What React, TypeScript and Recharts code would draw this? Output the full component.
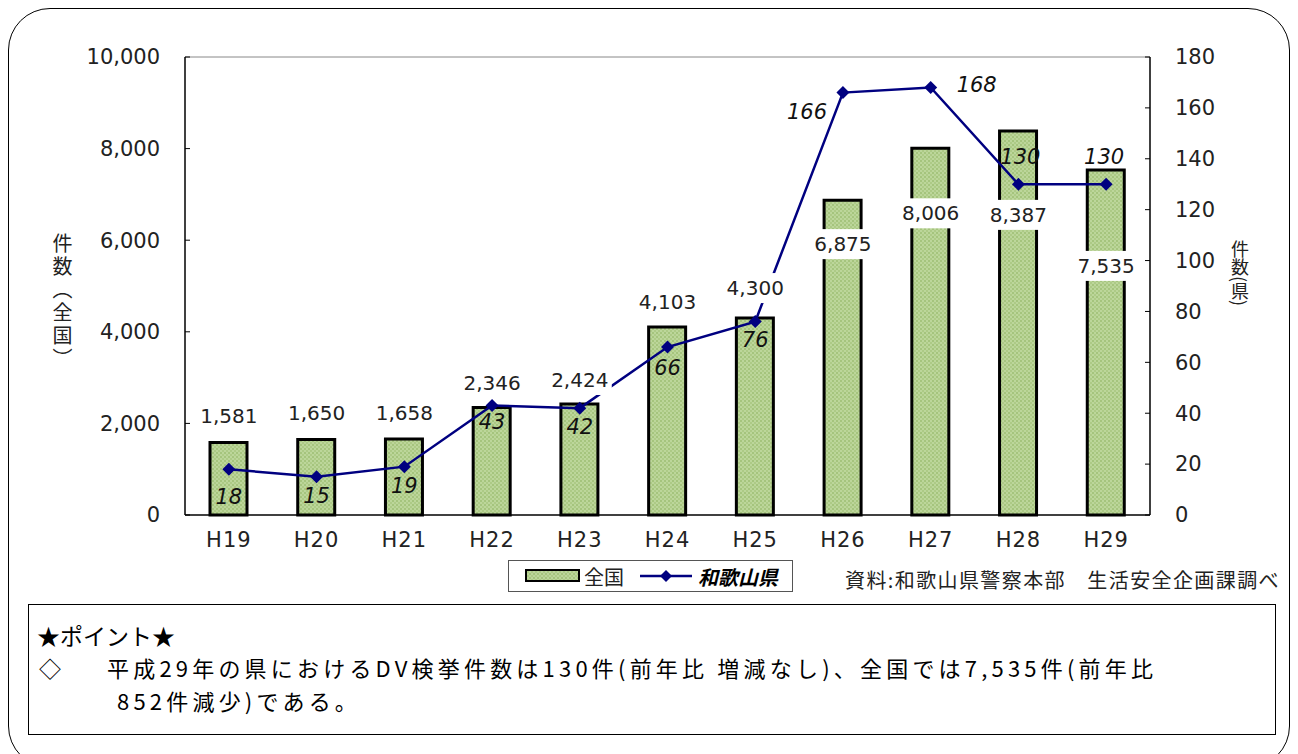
import { ComposedChart, Bar, Line, XAxis, YAxis, LabelList, ReferenceLine } from "recharts";

const YEARS = ["H19", "H20", "H21", "H22", "H23", "H24", "H25", "H26", "H27", "H28", "H29"];
const NATIONAL = [1581, 1650, 1658, 2346, 2424, 4103, 4300, 6875, 8006, 8387, 7535];
const WAKAYAMA = [18, 15, 19, 43, 42, 66, 76, 166, 168, 130, 130];
const LEFT_TICKS = [0, 2000, 4000, 6000, 8000, 10000];
const RIGHT_TICKS = [0, 20, 40, 60, 80, 100, 120, 140, 160, 180];

// label placement (layout only)
const BAR_LABEL_DY = [-27, -26, -26, -25, -24, -25, -30, 44, 65, 84, 96];
const LINE_LABEL_OFFSET = [
  [0, 27], [0, 19], [0, 19], [0, 16], [0, 19], [0, 21], [0, 18],
  [-36, 19], [46, -3], [2, -28], [-2, -28],
];

const FONT = '"Noto Sans CJK JP", "Noto Sans", sans-serif';
const NUM_FONT = '"DejaVu Sans", sans-serif';
const NAVY = "#000080";

const data = YEARS.map((year, i) => ({
  year,
  national: NATIONAL[i],
  wakayama: WAKAYAMA[i],
}));

const LeftTick = (props: any) => {
  const { x, y, payload } = props;
  const ax = x + 25;
  return (
    <g>
      <line x1={ax} x2={ax + 5} y1={y} y2={y} stroke="#000" />
      <text x={x} y={y} dy="0.35em" textAnchor="end" fontSize={21} fill="#222" fontFamily={NUM_FONT}>
        {payload.value.toLocaleString("en-US")}
      </text>
    </g>
  );
};

const RightTick = (props: any) => {
  const { x, y, payload } = props;
  const ax = x - 25;
  return (
    <g>
      <line x1={ax} x2={ax - 5} y1={y} y2={y} stroke="#000" />
      <text x={x} y={y} dy="0.35em" textAnchor="start" fontSize={21} fill="#222" fontFamily={NUM_FONT}>
        {payload.value}
      </text>
    </g>
  );
};

const XTick = (props: any) => {
  const { x, y, payload } = props;
  return (
    <text x={x} y={y} dy="0.35em" textAnchor="middle" fontSize={21} fill="#222" fontFamily={NUM_FONT} letterSpacing={1}>
      {payload.value}
    </text>
  );
};

const Diamond = (props: any) => {
  const { cx, cy } = props;
  if (cx == null || cy == null) return null;
  const r = 6.5;
  return <path d={`M${cx},${cy - r}L${cx + r},${cy}L${cx},${cy + r}L${cx - r},${cy}Z`} fill={NAVY} />;
};

const BarValueLabel = (props: any) => {
  const { x, y, index, value } = props;
  const cy = y + BAR_LABEL_DY[index];
  const text = Number(value).toLocaleString("en-US");
  return (
    <g>
      <rect x={x - 32} y={cy - 15} width={64} height={30} fill="#fff" />
      <text x={x} y={cy} dy="0.35em" textAnchor="middle" fontSize={20} fill="#222" fontFamily={NUM_FONT}>
        {text}
      </text>
    </g>
  );
};

const LineValueLabel = (props: any) => {
  const { x, y, index, value } = props;
  const [dx, dy] = LINE_LABEL_OFFSET[index];
  return (
    <text
      x={x + dx}
      y={y + dy}
      dy="0.35em"
      textAnchor="middle"
      fontSize={21}
      fontStyle="italic"
      fill="#111"
      fontFamily={NUM_FONT}
    >
      {value}
    </text>
  );
};

export default function App() {
  return (
    <div style={{ position: "relative", width: 1298, height: 754, overflow: "hidden", background: "#fff", fontFamily: FONT }}>
      <style>{`body{margin:0}`}</style>
      <svg width={0} height={0} style={{ position: "absolute" }}>
        <defs>
          <pattern id="dotGreen" patternUnits="userSpaceOnUse" width={4} height={4}>
            <rect width={4} height={4} fill="#bcd69a" />
            <rect width={2} height={2} fill="#a5c47d" />
            <rect x={2} y={2} width={2} height={2} fill="#adca86" />
          </pattern>
        </defs>
      </svg>

      <div
        style={{
          position: "absolute",
          left: 8,
          top: 8,
          width: 1282,
          height: 760,
          border: "1.5px solid #000",
          borderRadius: 42,
          boxSizing: "border-box",
        }}
      />

      <div style={{ position: "absolute", left: 0, top: 0 }}>
        <ComposedChart width={1298} height={570} data={data} margin={{ top: 57, right: 0, bottom: 0, left: 0 }}>
          <XAxis
            dataKey="year"
            height={55}
            axisLine={{ stroke: "#000", strokeWidth: 1.5 }}
            tickLine={false}
            tickSize={0}
            tickMargin={25}
            tick={<XTick />}
          />
          <YAxis
            yAxisId="left"
            width={185}
            domain={[0, 10000]}
            ticks={LEFT_TICKS}
            axisLine={{ stroke: "#000", strokeWidth: 1.5 }}
            tickLine={false}
            tickSize={0}
            tickMargin={25}
            tick={<LeftTick />}
          />
          <YAxis
            yAxisId="right"
            orientation="right"
            width={148}
            domain={[0, 180]}
            ticks={RIGHT_TICKS}
            axisLine={{ stroke: "#000", strokeWidth: 1.5 }}
            tickLine={false}
            tickSize={0}
            tickMargin={25}
            tick={<RightTick />}
          />
          <ReferenceLine yAxisId="left" y={10000} stroke="#888" strokeWidth={1} />
          <Bar
            yAxisId="left"
            dataKey="national"
            barSize={37}
            fill="url(#dotGreen)"
            stroke="#000"
            strokeWidth={3}
            isAnimationActive={false}
          />
          <Line
            yAxisId="right"
            dataKey="wakayama"
            stroke={NAVY}
            strokeWidth={2.5}
            dot={<Diamond />}
            activeDot={false}
            isAnimationActive={false}
          >
            <LabelList dataKey="wakayama" content={<LineValueLabel />} />
          </Line>
          <Line
            yAxisId="left"
            dataKey="national"
            stroke="none"
            dot={false}
            activeDot={false}
            legendType="none"
            isAnimationActive={false}
          >
            <LabelList dataKey="national" content={<BarValueLabel />} />
          </Line>
        </ComposedChart>
      </div>

      {/* axis titles */}
      <div
        style={{
          position: "absolute",
          left: 52,
          top: 233,
          writingMode: "vertical-rl",
          fontSize: 20,
          letterSpacing: 3,
          color: "#222",
          lineHeight: 1,
        }}
      >
        件数（全国）
      </div>
      <div
        style={{
          position: "absolute",
          left: 1231,
          top: 240,
          writingMode: "vertical-rl",
          fontSize: 18,
          color: "#222",
          lineHeight: 1,
        }}
      >
        件数(県)
      </div>

      {/* legend */}
      <div
        style={{
          position: "absolute",
          left: 508,
          top: 560,
          width: 285,
          height: 32,
          border: "1px solid #555",
          boxSizing: "border-box",
          display: "flex",
          alignItems: "center",
          fontSize: 20,
          color: "#222",
        }}
      >
        <svg width={56} height={14} style={{ marginLeft: 16 }}>
          <rect x={1} y={1} width={53} height={11} fill="url(#dotGreen)" stroke="#000" strokeWidth={2} />
        </svg>
        <span style={{ marginLeft: 3 }}>全国</span>
        <svg width={52} height={16} style={{ marginLeft: 16 }}>
          <line x1={0} x2={52} y1={8} y2={8} stroke={NAVY} strokeWidth={2.5} />
          <path d="M26,2L32,8L26,14L20,8Z" fill={NAVY} />
        </svg>
        <span style={{ marginLeft: 6, fontWeight: 700, fontStyle: "italic", color: "#000" }}>和歌山県</span>
      </div>

      <div style={{ position: "absolute", left: 845, top: 565, fontSize: 20, letterSpacing: 1.4, color: "#222", whiteSpace: "nowrap" }}>
        資料:和歌山県警察本部　生活安全企画課調べ
      </div>

      {/* point box */}
      <div
        style={{
          position: "absolute",
          left: 28,
          top: 604,
          width: 1248,
          height: 131,
          border: "1.5px solid #000",
          boxSizing: "border-box",
          fontSize: 22,
          color: "#000",
          lineHeight: "30px",
          whiteSpace: "nowrap",
        }}
      >
        <div style={{ position: "absolute", left: 8, top: 15, fontSize: 23 }}>★ポイント★</div>
        <div style={{ position: "absolute", left: 10, top: 47 }}>◇</div>
        <div style={{ position: "absolute", left: 78, top: 47, letterSpacing: 4.2 }}>
          平成29年の県におけるDV検挙件数は130件(前年比 増減なし)、全国では7,535件(前年比
        </div>
        <div style={{ position: "absolute", left: 88, top: 80, letterSpacing: 4.2 }}>852件減少)である。</div>
      </div>
    </div>
  );
}
